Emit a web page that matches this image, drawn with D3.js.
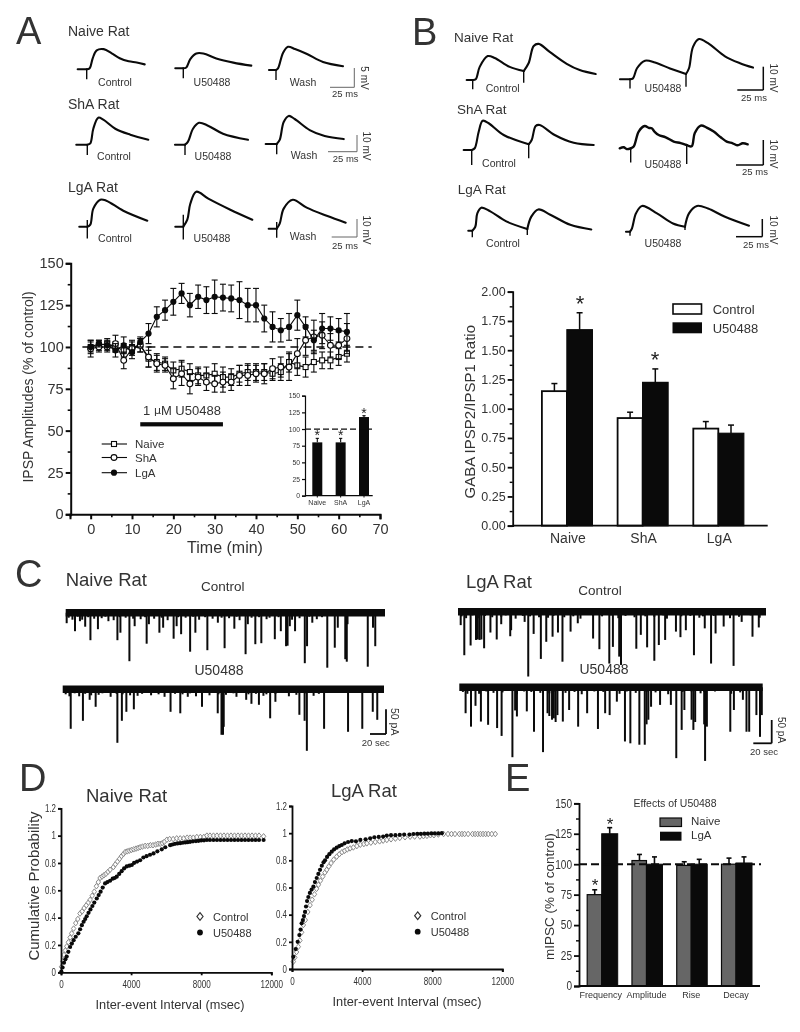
<!DOCTYPE html>
<html><head><meta charset="utf-8">
<script src="https://cdn.jsdelivr.net/npm/d3@7"></script>
<style>
html,body{margin:0;padding:0;background:#fff}
svg{display:block;filter:blur(0.45px)}
text{font-family:"Liberation Sans",Arial,sans-serif;fill:#333}
</style></head><body><svg id="fig" width="800" height="1032"></svg>
<script>
// ---------- Panel A time course ----------
const timeMin=[0,2,4,6,8,10,12,14,16,18,20,22,24,26,28,30,32,34,36,38,40,42,44,46,48,50,52,54,56,58,60,62];
const naiveAmp=[100,101,102,100,98,100,101,93,91,90,86,87,85,83,83,84,82,82,84,85,85,85,84,85,91,89,88,91,92,92,94,96];
const naiveErr=[4,3,3,3,4,4,4,5,5,4,5,5,5,5,5,6,6,5,5,5,5,5,4,5,6,6,6,6,5,5,5,5];
const shaAmp=[99,100,100,102,92,99,101,94,90,89,81,84,78,82,79,78,79,79,83,83,84,84,87,88,88,96,104,106,107,101,101,105];
const shaErr=[5,3,3,5,5,4,4,6,5,4,6,7,6,5,5,5,6,5,6,6,5,6,6,6,8,9,9,10,8,7,8,9];
const lgaAmp=[100,102,101,98,101,97,103,108,118,122,127,132,125,130,128,130,129.5,129,128,125,125,117,112,110,112,119,112,104,111,111,110,109];
const lgaErr=[3,2,3,4,5,4,3,6,6,6,8,6,7,7,8,10,8,8,11,10,10,8,9,7,8,9,6,6,9,7,7,11];
const insetCats=["Naive","ShA","LgA"];
const insetVals=[80,80,118];
const insetErr=[6,6,2];
// ---------- Panel A IPSP traces [ms, mV] ----------
const aNaiveControl=[[-9,0],[0,0],[0,-2.6],[0,0],[3,.3],[6,2.9],[10,5],[17,5.3],[25,4.2],[33,2.9],[42,2.1],[50,1.8],[58,1.3]];
const aNaiveDrug=[[-8,0],[0,0],[0,-2.6],[0,0],[3,.2],[7,2.4],[13,3.9],[20,3.9],[33,2.6],[50,1.5],[68,.7]];
const aNaiveWash=[[-7,0],[0,0],[0,-2.6],[0,0],[2,.4],[7,4.5],[12,6.1],[19,5.5],[31,4.2],[47,2.1],[67,1]];
const aShaControl=[[-11,0],[0,0],[0,-6],[0,0],[3,.8],[6,9.4],[11,15.9],[16,14.7],[28,9.4],[43,5.9],[61,2.9]];
const aShaDrug=[[-10,0],[0,0],[0,-6],[0,0],[3,1.8],[8,9.4],[14,12.9],[23,11.2],[38,6.5],[63,2.9]];
const aShaWash=[[-11,0],[0,0],[0,-6],[0,0],[3,2.4],[7,12.9],[12,16.5],[18,14.7],[33,8.2],[48,4.7],[67,2.9]];
const aLgaControl=[[-8,0],[0,0],[0,4],[0,-7],[0,0],[3,1.2],[6,10.6],[13,15.9],[19,15.3],[36,9.4],[60,3.5]];
const aLgaDrug=[[-8,0],[0,0],[0,7],[0,-7.6],[0,0],[4,4.1],[7,13.5],[13,20.6],[25,16.5],[47,10],[69,4.1]];
const aLgaWash=[[-8,0],[0,0],[0,4],[0,-5.3],[0,0],[3,3],[7,11.8],[16,17],[30,12.4],[50,7.6],[69,3.5]];
// ---------- Panel B paired-pulse traces [ms, mV] ----------
const bNaiveControl=[[-6,0],[0,0],[0,-4],[0,0],[3,.3],[7,5.7],[15,10.4],[22,9.6],[37,5.7],[51,3.9],[51,-1.2],[51,3.9],[56,7.4],[61,14.8],[66,15.7],[77,12.2],[94,7],[107,4.3],[123,2.6]];
const bNaiveDrug=[[-10,0],[0,0],[0,-4],[0,0],[3,.4],[7,4.8],[15,8.1],[25,7.3],[40,4.7],[56,2.3],[56,-3.2],[56,2.3],[59,4.8],[63,14.1],[69,17.5],[78,15.7],[95,10],[110,7],[123,5.1]];
const bShaControl=[[-8,0],[0,0],[0,-6],[0,0],[3,.7],[7,7.3],[11,11.7],[17,10.7],[32,6],[57,2.3],[57,-3.3],[57,2.3],[60,4],[64,9.6],[68,10],[83,6],[102,2.9],[122,2]];
const bShaDrug=[[-11,0],[-7,.4],[-4,-.3],[0,0],[0,-5.7],[0,0],[3,.7],[8,6.7],[14,8.9],[18,8.2],[21,8],[24,6.6],[28,5.3],[35,4.4],[43,2.7],[50,2.1],[56,1.3],[56,-6.3],[56,1.3],[61,.8],[64,6],[70,9.1],[76,8.3],[83,6.7],[90,4.4],[96,2.7],[102,2],[107,1.2],[112,2],[117,1.6]];
const bLgaControl=[[-4,0],[0,0],[0,-3.7],[0,0],[3,2.2],[5,9.6],[9,12.8],[18,10.7],[34,5.2],[55,.9],[55,-2.4],[55,.9],[59,7.8],[66,11.8],[78,8.9],[98,3.3],[119,.7]];
const bLgaDrug=[[-4,0],[0,0],[0,-2.2],[0,0],[2,1.9],[6,10.2],[12,14.3],[27,10.2],[43,4.6],[55,2.8],[55,1],[55,2.8],[59,10.2],[67,14.3],[78,12.9],[95,8.3],[119,3.3]];
// ---------- Panel B ratio ----------
const ratioCats=["Naive","ShA","LgA"];
const ratioControl=[1.15,.92,.83];
const ratioControlErr=[.065,.05,.06];
const ratioDrug=[1.675,1.225,.79];
const ratioDrugErr=[.145,.115,.07];
// ---------- Panel C mIPSC events [sec, pA] ----------
const cNaiveControl=[[1.3,21],[12.4,37],[19,17],[26,28],[33,55],[43,33],[57,17],[69,55],[73,40],[85,97],[92,27],[108,62],[111,23],[125,40],[130,30],[144,52],[148,27],[154,43],[166,78],[173,40],[189,75],[203,20],[212,71],[225,32],[240,83],[243,23],[253,63],[261,61],[279,53],[287,37],[294,67],[296,66],[299,27],[306,37],[319,101],[322,67],[329,20],[349,110],[359,70],[363,30],[373,93],[375,98],[376,23],[403,108],[410,30],[413,67]];
const cNaiveDrug=[[10.7,79],[27,63],[36,21],[44,35],[73,107],[79,63],[85,45],[95,40],[144,45],[157,48],[167,15],[186,35],[207,48],[212,91],[214,91],[215,75],[245,21],[252,29],[262,31],[277,58],[284,25],[316,51],[323,63],[326,123],[349,79],[381,85],[400,79],[414,45],[420,61]];
const cLgaControl=[[3,29],[7,94],[14,73],[20,61],[22,60],[24,61],[26,60],[29,79],[36,45],[43,60],[48,27],[58,53],[59,40],[74,22],[78,140],[84,48],[92,102],[98,65],[105,54],[111,45],[116,108],[125,43],[133,25],[150,58],[157,81],[168,112],[172,76],[179,97],[181,115],[198,80],[203,50],[210,77],[218,106],[223,72],[230,61],[242,43],[247,55],[253,40],[262,94],[274,36],[281,112],[286,47],[295,32],[306,117],[315,22],[327,54],[334,34]];
const cLgaDrug=[[7,56],[13,85],[18,40],[24,74],[32,81],[42,88],[47,105],[59,151],[64,63],[62,50],[75,52],[83,96],[93,140],[98,56],[100,62],[103,70],[105,67],[107,75],[109,60],[115,74],[122,49],[132,85],[142,56],[154,90],[162,56],[167,60],[175,31],[184,117],[190,121],[200,124],[206,124],[208,80],[210,70],[213,42],[223,38],[235,38],[241,153],[247,92],[250,49],[258,70],[260,92],[262,75],[272,80],[273,159],[275,85],[301,96],[305,49],[315,27],[319,96],[322,96],[330,60],[334,107],[336,60]];
const minorEvents=[[4,10],[9,14],[16,8],[22,14],[30,9],[38,12],[48,11],[53,8],[64,15],[72,9],[80,10],[90,12],[100,13],[106,9],[118,12],[128,10],[136,15],[150,9],[160,10],[170,8],[178,14],[186,9],[196,12],[208,10],[218,11],[228,8],[232,15],[248,10],[258,9],[268,13],[272,10],[284,9],[302,14],[312,11],[325,8],[335,13],[342,9]];
// ---------- Panel D cumulative curves [msec, probability] ----------
const dNaiveControl=[[30,.04],[100,.08],[170,.127],[250,.16],[330,.19],[420,.22],[520,.255],[610,.285],[720,.32],[840,.36],[960,.39],[1085,.43],[1200,.445],[1320,.47],[1440,.49],[1560,.51],[1660,.53],[1780,.56],[1900,.59],[2020,.63],[2130,.66],[2230,.69],[2340,.70],[2450,.71],[2560,.72],[2680,.735],[2800,.75],[2990,.77],[3100,.79],[3220,.81],[3340,.83],[3450,.85],[3560,.865],[3660,.88],[3780,.885],[3900,.89],[4020,.895],[4150,.90],[4280,.905],[4400,.91],[4515,.915],[4650,.92],[4800,.925],[4950,.925],[5100,.93],[5250,.93],[5400,.935],[5530,.94],[5660,.94],[5780,.945],[5900,.955],[6040,.97],[6200,.975],[6400,.975],[6600,.98],[6800,.98],[7000,.98],[7200,.985],[7370,.985],[7550,.985],[7750,.99],[7950,.99],[8150,.99],[8325,1],[8500,1],[8700,1],[8900,1],[9100,1],[9300,1],[9500,1],[9700,1],[9900,1],[10100,1],[10300,1],[10500,1],[10700,1],[10900,1],[11100,1],[11300,1],[11560,.995]];
const dNaiveDrug=[[20,.005],[90,.035],[170,.07],[250,.095],[324,.115],[420,.15],[520,.185],[620,.21],[720,.235],[840,.26],[990,.285],[1090,.315],[1190,.345],[1290,.37],[1380,.39],[1467,.41],[1570,.435],[1680,.46],[1790,.485],[1900,.51],[2040,.54],[2150,.565],[2260,.59],[2380,.62],[2515,.65],[2650,.66],[2800,.67],[2950,.685],[3060,.69],[3180,.70],[3320,.72],[3460,.74],[3600,.76],[3750,.775],[3900,.78],[4040,.785],[4170,.80],[4340,.81],[4515,.82],[4700,.84],[4880,.85],[5080,.86],[5280,.87],[5500,.885],[5750,.90],[5950,.915],[6230,.93],[6360,.935],[6500,.94],[6650,.943],[6800,.945],[6950,.948],[7100,.95],[7230,.952],[7370,.955],[7530,.958],[7700,.96],[7850,.962],[8000,.965],[8160,.966],[8325,.968],[8500,.968],[8700,.968],[8900,.968],[9100,.968],[9300,.968],[9500,.968],[9700,.968],[9900,.968],[10100,.968],[10300,.968],[10500,.968],[10700,.968],[10900,.968],[11100,.968],[11300,.968],[11560,.968]];
const dLgaControl=[[76,.054],[160,.085],[260,.125],[360,.164],[450,.21],[550,.27],[648,.324],[760,.36],[900,.42],[1030,.47],[1150,.51],[1280,.55],[1400,.59],[1505,.62],[1620,.65],[1750,.68],[1880,.71],[1980,.73],[2100,.755],[2230,.78],[2380,.805],[2550,.827],[2700,.845],[2850,.86],[3000,.87],[3150,.88],[3315,.888],[3500,.895],[3700,.905],[3900,.915],[4100,.92],[4270,.925],[4500,.93],[4750,.935],[5000,.94],[5200,.945],[5410,.95],[5650,.955],[5900,.96],[6150,.965],[6450,.97],[6740,.974],[7000,.975],[7300,.975],[7500,.978],[7700,.98],[7900,.985],[8100,.985],[8350,.99],[8650,.994],[8900,.994],[9100,.994],[9300,.994],[9550,.994],[9700,.994],[9850,.994],[10050,.994],[10300,.994],[10450,.994],[10600,.994],[10750,.994],[10900,.994],[11050,.994],[11200,.994],[11400,.994],[11600,.994]];
const dLgaDrug=[[76,.09],[210,.147],[324,.2],[420,.25],[490,.29],[550,.336],[620,.36],[680,.39],[743,.42],[800,.46],[860,.50],[933,.53],[1020,.56],[1120,.585],[1220,.606],[1310,.64],[1410,.67],[1505,.70],[1600,.73],[1700,.76],[1800,.785],[1886,.80],[2000,.825],[2130,.845],[2267,.864],[2400,.88],[2550,.893],[2700,.905],[2840,.913],[3000,.925],[3200,.935],[3410,.942],[3650,.94],[3900,.95],[4200,.955],[4460,.962],[4700,.97],[4950,.972],[5200,.975],[5410,.982],[5650,.985],[5900,.985],[6150,.988],[6400,.99],[6700,.99],[6930,.994],[7150,.995],[7350,.995],[7550,.996],[7750,.996],[7950,.998],[8150,.998],[8350,.998],[8550,1]];
// ---------- Panel E ----------
const eCats=["Frequency","Amplitude","Rise","Decay"];
const eNaive=[75,103,99,100];
const eNaiveErr=[4,5,3,5];
const eLga=[125,100,100,101];
const eLgaErr=[5,6,4,5];

const svg=d3.select("#fig");
const INK="#0a0a0a";
function label(txt,x,y,size,opt={}){
  const t=svg.append("text").attr("x",x).attr("y",y).attr("font-size",size).text(txt)
    .attr("text-anchor",opt.anchor||"start").attr("dominant-baseline","central");
  if(opt.rot!==undefined){t.attr("transform",`rotate(${opt.rot} ${x} ${y})`).attr("text-anchor","middle");}
  if(opt.fill)t.style("fill",opt.fill);
  if(opt.width)t.attr("textLength",opt.width).attr("lengthAdjust","spacingAndGlyphs");
  return t;
}
const mid={anchor:"middle"};
function star(x,y,size){ // y = visual centre of the asterisk
  svg.append("text").attr("x",x).attr("y",y+size*0.56).attr("text-anchor","middle")
    .attr("font-size",size).text("*").style("fill","#222");
}
function seg(x1,y1,x2,y2,w,c=INK,dash){
  const l=svg.append("line").attr("x1",x1).attr("y1",y1).attr("x2",x2).attr("y2",y2)
    .attr("stroke",c).attr("stroke-width",w);
  if(dash)l.attr("stroke-dasharray",dash);
}
function squeeze(sel,fmt,charW){
  if(!charW)return;
  sel.attr("textLength",d=>[...String(fmt(d))].reduce((a,c)=>a+(c==="."?.5:1),0)*charW).attr("lengthAdjust","spacingAndGlyphs");
}
function yAxis(scale,x,majors,minors,fmt,fs,w=1.6,tick=5,charW=0){
  const g=svg.append("g").attr("transform",`translate(${x},0)`);
  g.call(d3.axisLeft(scale).tickValues(majors).tickFormat(fmt).tickSizeOuter(0).tickSize(tick).tickPadding(2));
  g.selectAll("text").attr("font-size",fs).attr("font-family",null);
  squeeze(g.selectAll("text"),fmt,charW);
  g.selectAll("path,line").attr("stroke",INK).attr("stroke-width",w);
  if(minors){const m=svg.append("g").attr("transform",`translate(${x},0)`);
    m.call(d3.axisLeft(scale).tickValues(minors).tickFormat("").tickSizeOuter(0).tickSize(tick*.6));
    m.select("path").remove();m.selectAll("line").attr("stroke",INK).attr("stroke-width",w*.8);}
}
function xAxis(scale,y,majors,minors,fmt,fs,w=1.6,tick=5,pad=3,charW=0){
  const g=svg.append("g").attr("transform",`translate(0,${y})`);
  g.call(d3.axisBottom(scale).tickValues(majors).tickFormat(fmt).tickSizeOuter(0).tickSize(tick).tickPadding(pad));
  g.selectAll("text").attr("font-size",fs).attr("font-family",null);
  squeeze(g.selectAll("text"),fmt,charW);
  g.selectAll("path,line").attr("stroke",INK).attr("stroke-width",w);
  if(minors){const m=svg.append("g").attr("transform",`translate(0,${y})`);
    m.call(d3.axisBottom(scale).tickValues(minors).tickFormat("").tickSizeOuter(0).tickSize(tick*.6));
    m.select("path").remove();m.selectAll("line").attr("stroke",INK).attr("stroke-width",w*.8);}
}
// Smooth each stretch of a trace; points sharing a time are the vertical stimulus artefact.
function ipsp(data,x0,y0,pxPerMv,w=2.1){
  const sx=d3.scaleLinear().domain([0,100]).range([x0,x0+100]);
  const sy=d3.scaleLinear().domain([0,10]).range([y0,y0-10*pxPerMv]);
  const runs=[[]];let vert=null;
  data.forEach((d,i)=>{
    if(i>0&&d[0]===data[i-1][0]){
      if(!vert)vert={t:d[0],ys:[data[i-1][1]]};
      vert.ys.push(d[1]);
    }else{
      if(vert){seg(sx(vert.t),sy(d3.min(vert.ys)),sx(vert.t),sy(d3.max(vert.ys)),1.4);runs.push([data[i-1]]);vert=null;}
      runs[runs.length-1].push(d);
    }
  });
  const line=d3.line().x(d=>sx(d[0])).y(d=>sy(d[1])).curve(d3.curveCatmullRom.alpha(.5));
  runs.forEach(r=>svg.append("path").attr("d",line(r)).attr("fill","none").attr("stroke",INK)
    .attr("stroke-width",w).attr("stroke-linejoin","round").attr("stroke-linecap","round"));
}
function scaleBar(xv,y1,y2,xh,w,c,tV,xV,yV,tH,xH,yH){
  seg(xv,y1,xv,y2,w,c);seg(xh,y2,xv,y2,w,c);
  label(tV,xV,yV,10,{rot:90});label(tH,xH,yH,9.5,mid);
}
function errBars(xs,tops,y,capHalf,w){
  xs.forEach((x,i)=>{seg(x,y(tops[i][0]),x,y(tops[i][1]),w);seg(x-capHalf,y(tops[i][1]),x+capHalf,y(tops[i][1]),w);});
}

// ---------- Panel letters ----------
label("A",16,31,38);label("B",412,32,38);label("C",15,574,38);label("D",19,778,38);label("E",505,778,38);

// ---------- Panel A traces ----------
label("Naive Rat",68,31,14);label("ShA Rat",68,104,14);label("LgA Rat",68,187,14);
ipsp(aNaiveControl,86.7,69.3,3.8);ipsp(aNaiveDrug,183.3,68.3,3.8);ipsp(aNaiveWash,276,70,3.8);
ipsp(aShaControl,87.3,144.7,1.7);ipsp(aShaDrug,185,144.7,1.7);ipsp(aShaWash,276.7,144,1.7);
ipsp(aLgaControl,87.3,226.7,1.7);ipsp(aLgaDrug,183.3,226.7,1.7);ipsp(aLgaWash,276.7,228.7,1.7);
[[115,82],[114,156],[115,238]].forEach(p=>label("Control",p[0],p[1],10.5,mid));
[[212,82],[213,156],[212,238]].forEach(p=>label("U50488",p[0],p[1],10.5,mid));
[[303,82],[304,155],[303,236]].forEach(p=>label("Wash",p[0],p[1],10.5,mid));
scaleBar(354.3,68,87.3,330,1,"#666","5 mV",364,78,"25 ms",345,93);
scaleBar(357,135,151.7,328,1,"#666","10 mV",366.7,146,"25 ms",345.7,158.7);
scaleBar(357,219,237,331.7,1,"#666","10 mV",366,230,"25 ms",345,245);

// ---------- Panel A time course ----------
const ax=d3.scaleLinear().domain([-5,70]).range([70,380]);
const ay=d3.scaleLinear().domain([0,150]).range([514.3,263.3]);
yAxis(ay,70.7,d3.range(0,151,25),d3.range(12.5,150,25),d3.format("d"),14.5,2);
xAxis(ax,514.3,d3.range(0,71,10),d3.range(-5,71,10),d3.format("d"),14.5,2,5,4);
label("IPSP Amplitudes (% of control)",28,387,14,{rot:-90});
label("Time (min)",225,547,16,mid);
seg(ax(-2),ay(100),ax(68),ay(100),1.6,INK,"8 5");
function series(vals,errs,draw){
  timeMin.forEach((t,i)=>{
    const x=ax(t);
    seg(x,ay(vals[i]-errs[i]),x,ay(vals[i]+errs[i]),1.1);
    seg(x-3,ay(vals[i]-errs[i]),x+3,ay(vals[i]-errs[i]),1.1);
    seg(x-3,ay(vals[i]+errs[i]),x+3,ay(vals[i]+errs[i]),1.1);
  });
  svg.append("path").attr("d",d3.line().x((d,i)=>ax(timeMin[i])).y(d=>ay(d))(vals)).attr("fill","none").attr("stroke",INK).attr("stroke-width",1.1);
  vals.forEach((v,i)=>draw(ax(timeMin[i]),ay(v)));
}
const sq=(x,y)=>svg.append("rect").attr("x",x-2.5).attr("y",y-2.5).attr("width",5).attr("height",5).attr("fill","#fff").attr("stroke",INK).attr("stroke-width",1.1);
const ci=(x,y)=>svg.append("circle").attr("cx",x).attr("cy",y).attr("r",2.9).attr("fill","#fff").attr("stroke",INK).attr("stroke-width",1.1);
const dot=(x,y)=>svg.append("circle").attr("cx",x).attr("cy",y).attr("r",3.1).attr("fill",INK);
series(naiveAmp,naiveErr,sq);
series(shaAmp,shaErr,ci);
series(lgaAmp,lgaErr,dot);
svg.append("rect").attr("x",ax(12)).attr("width",ax(32)-ax(12)).attr("y",422.2).attr("height",4.2).attr("fill",INK);
const mu=svg.append("text").attr("x",182).attr("y",409.5).attr("dominant-baseline","central").attr("text-anchor","middle").attr("font-size",13);
mu.append("tspan").text("1 ");mu.append("tspan").style("font-family","'DejaVu Sans'").attr("font-size",11).text("μ");mu.append("tspan").text("M U50488");
[["Naive",444,sq],["ShA",457.5,ci],["LgA",472.7,dot]].forEach(d=>{seg(101.7,d[1],127,d[1],1.1);d[2](114,d[1]);label(d[0],135,d[1],11.5);});
// inset
const ix=d3.scalePoint().domain(insetCats).range([317.3,364]);
const iy=d3.scaleLinear().domain([0,150]).range([495.7,395.7]);
insetCats.forEach((c,i)=>svg.append("rect").attr("x",ix(c)-5).attr("width",10).attr("y",iy(insetVals[i])).attr("height",iy(0)-iy(insetVals[i])).attr("fill",INK));
errBars(insetCats.map(c=>ix(c)),insetVals.map((v,i)=>[v,v+insetErr[i]]),iy,1.6,1.1);
insetCats.forEach((c,i)=>star(ix(c),iy(insetVals[i]+insetErr[i])-6,14));
yAxis(iy,305,d3.range(0,151,25),null,d3.format("d"),6.8,1.2,3);
seg(305,495.7,372.7,495.7,1.3);
insetCats.forEach(c=>{label(c,ix(c),502.5,7,mid);seg(ix(c),495.7,ix(c),497.5,1);});
seg(305,iy(100),372,iy(100),1.3,INK,"6 3");

// ---------- Panel B traces ----------
label("Naive Rat",454,37,13.5);label("ShA Rat",457,109,13.5);label("LgA Rat",457.7,189,13.5);
ipsp(bNaiveControl,472.7,80,2.3);ipsp(bNaiveDrug,630,79.3,2.3);
ipsp(bShaControl,471.7,150,2.5);ipsp(bShaDrug,630.7,148.3,2.5,2.4);
ipsp(bLgaControl,472.3,230.7,1.8);ipsp(bLgaDrug,630,231.7,1.8);
[[502.7,87.7],[499,162.7],[503,243]].forEach(p=>label("Control",p[0],p[1],10.5,mid));
[[663,88],[663,164],[663,243]].forEach(p=>label("U50488",p[0],p[1],10.5,mid));
scaleBar(763.3,66.7,90,737.3,1.5,INK,"10 mV",773,78,"25 ms",754,97);
scaleBar(763.3,140,165,736,1.5,INK,"10 mV",773,154,"25 ms",755,171);
scaleBar(762.3,219,236.7,736,1.5,INK,"10 mV",773,230,"25 ms",756,244);

// ---------- Panel B ratio bars ----------
const bx=d3.scalePoint().domain(ratioCats).range([566.9,718.3]);
const by=d3.scaleLinear().domain([0,2]).range([525.7,291.7]);
ratioCats.forEach((c,i)=>{
  svg.append("rect").attr("x",bx(c)-25).attr("width",25).attr("y",by(ratioControl[i])).attr("height",by(0)-by(ratioControl[i])).attr("fill","#fff").attr("stroke",INK).attr("stroke-width",1.8);
  svg.append("rect").attr("x",bx(c)).attr("width",25.5).attr("y",by(ratioDrug[i])).attr("height",by(0)-by(ratioDrug[i])).attr("fill",INK).attr("stroke",INK).attr("stroke-width",1.2);
});
errBars(ratioCats.map(c=>bx(c)-12.5),ratioControl.map((v,i)=>[v,v+ratioControlErr[i]]),by,3,1.5);
errBars(ratioCats.map(c=>bx(c)+12.7),ratioDrug.map((v,i)=>[v,v+ratioDrugErr[i]]),by,3,1.5);
yAxis(by,512.7,d3.range(0,2.01,.25),d3.range(.125,2,.25),d3.format(".2f"),12.5,1.8,5);
seg(512.7,525.7,767.7,525.7,1.8);
ratioCats.forEach(c=>label(c,bx(c)+1,537.7,14,mid));
label("GABA IPSP2/IPSP1 Ratio",470,411.7,15,{rot:-90});
star(580,299,22);star(655,355,22);
svg.append("rect").attr("x",673).attr("y",304).attr("width",28.5).attr("height",10).attr("fill","#fff").attr("stroke",INK).attr("stroke-width",1.6);
svg.append("rect").attr("x",672.5).attr("y",322.3).attr("width",29.5).attr("height",11).attr("fill",INK);
label("Control",712.7,309,13);label("U50488",712.7,328,13);

// ---------- Panel C ----------
label("Naive Rat",65.7,579,18.5);label("LgA Rat",466,581,18.5);
label("Control",222.7,586.7,13.5,mid);label("U50488",219,670,14,mid);
label("Control",600,590.7,13.5,mid);label("U50488",604,669,14,mid);
function events(data,x1,x2,dur,y0,pxPerPa,bandW=7.4){
  const sx=d3.scaleLinear().domain([0,dur]).range([x1,x2]);
  const sy=d3.scaleLinear().domain([0,100]).range([y0,y0+100*pxPerPa]);
  minorEvents.filter(d=>d[0]<dur).forEach(d=>seg(sx(d[0]),y0,sx(d[0]),sy(d[1]),2));
  data.forEach(d=>seg(sx(d[0]),y0,sx(d[0]),sy(d[1]),2));
  seg(x1,y0,x2,y0,bandW);
}
events(cNaiveControl,65.7,385,426,612.7,.5);
events(cNaiveDrug,62.7,384,429,689.3,.5);
events(cLgaControl,458,766,342,611.7,.463);
events(cLgaDrug,459.3,762.7,337,687.3,.463);
seg(386,709.3,386,734,1.8);seg(370,734,386,734,1.8);
label("50 pA",395,721.7,10.5,{rot:90});label("20 sec",375.7,742.3,9.5,mid);
seg(771.7,720,771.7,743.3,1.8);seg(753.3,743.3,771.7,743.3,1.8);
label("50 pA",781,730,10,{rot:90});label("20 sec",764,751,9.5,mid);

// ---------- Panel D ----------
const fmtP=d=>d===0||d===1?String(d):String(+d.toFixed(1));
function cdf(x1,yTop,yBot,title,titleX,titleY,ctrl,drug,labX,legX,legY){
  const sx=d3.scaleLinear().domain([0,12000]).range([x1,x1+210.3]);
  const sy=d3.scaleLinear().domain([0,1.2]).range([yBot,yTop]);
  label(title,titleX,titleY,18.5);
  const dia=(x,y,s,c,w)=>svg.append("path").attr("d",`M${x},${y-s}L${x+s*.8},${y}L${x},${y+s}L${x-s*.8},${y}Z`).attr("fill","#fff").attr("fill-opacity",.6).attr("stroke",c).attr("stroke-width",w);
  ctrl.forEach(d=>dia(sx(d[0]),sy(d[1]),2.8,"#8a8a8a",1));
  drug.forEach(d=>svg.append("circle").attr("cx",sx(d[0])).attr("cy",sy(d[1])).attr("r",2.1).attr("fill",INK));
  yAxis(sy,x1,[0,.2,.4,.6,.8,1,1.2],null,fmtP,10,1.8,3,4.4);
  xAxis(sx,yBot,[0,4000,8000,12000],null,d3.format("d"),10,1.8,3,6,4.5);
  label("Inter-event Interval (msec)",labX,yBot+32.5,13,{anchor:"middle",width:149});
  dia(legX,legY,3.8,"#333",1.2);
  svg.append("circle").attr("cx",legX).attr("cy",legY+16).attr("r",2.9).attr("fill",INK);
  label("Control",legX+13,legY,11);label("U50488",legX+13,legY+16,11);
}
cdf(61,808.3,972.3,"Naive Rat",86,795.7,dNaiveControl,dNaiveDrug,170,200,916.5);
cdf(292,806,969,"LgA Rat",331,790.7,dLgaControl,dLgaDrug,407,417.7,915.7);
label("Cumulative Probability",33,886,15,{rot:-90});

// ---------- Panel E ----------
const ex=d3.scalePoint().domain(eCats).range([601.7,736]);
const ey=d3.scaleLinear().domain([0,150]).range([986,803.3]);
eCats.forEach((c,i)=>{
  svg.append("rect").attr("x",ex(c)-14.5).attr("width",14.5).attr("y",ey(eNaive[i])).attr("height",ey(0)-ey(eNaive[i])).attr("fill","#666").attr("stroke",INK).attr("stroke-width",1.2);
  svg.append("rect").attr("x",ex(c)).attr("width",16).attr("y",ey(eLga[i])).attr("height",ey(0)-ey(eLga[i])).attr("fill",INK).attr("stroke",INK).attr("stroke-width",1);
});
errBars(eCats.map(c=>ex(c)-7),eNaive.map((v,i)=>[v,v+eNaiveErr[i]]),ey,2.5,1.6);
errBars(eCats.map(c=>ex(c)+8),eLga.map((v,i)=>[v,v+eLgaErr[i]]),ey,2.5,1.6);
seg(579,ey(100),761,ey(100),2,INK,"8 4");
yAxis(ey,579,d3.range(0,151,25),d3.range(12.5,150,25),d3.format("d"),12,1.8,5,5.6);
seg(579,986,760,986,1.8);
eCats.forEach(c=>label(c,ex(c)+(c==="Frequency"?-1:0),995,9,mid));
label("mIPSC (% of control)",550,896.7,13.5,{rot:-90});
label("Effects of U50488",675,802.7,10.5,{anchor:"middle",width:83});
star(595,881.7,17);star(610,820,17);
svg.append("rect").attr("x",660).attr("y",818).attr("width",21.5).attr("height",8.5).attr("fill","#666").attr("stroke",INK).attr("stroke-width",1.2);
svg.append("rect").attr("x",660).attr("y",831.7).attr("width",21.5).attr("height",9).attr("fill",INK);
label("Naive",691,821,11.5);label("LgA",691,835,11.5);
</script></body></html>
